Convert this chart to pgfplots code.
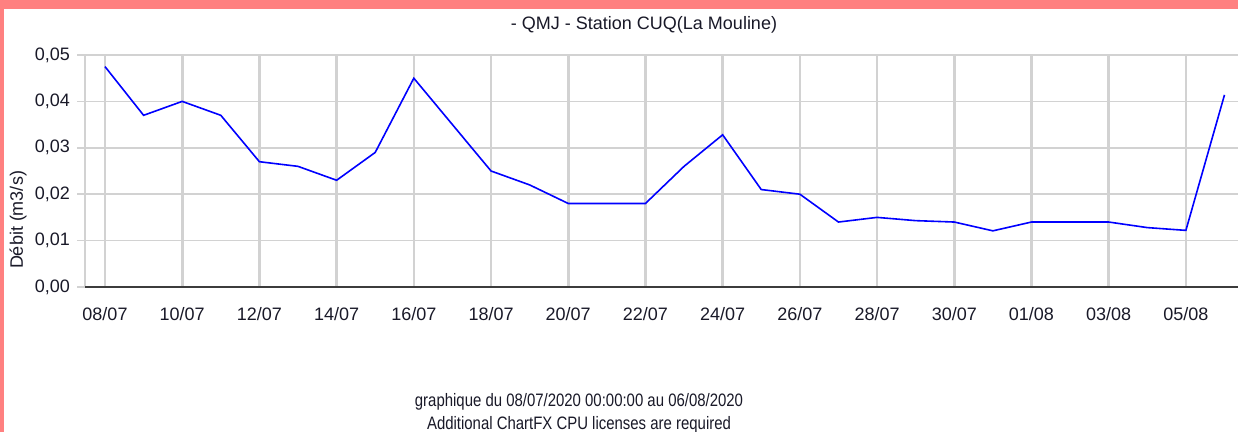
\documentclass[border=0pt]{standalone}
\usepackage{pgfplots}
\pgfplotsset{compat=1.18}
\usepackage{fontspec}
\setmainfont{Liberation Sans}
\definecolor{pinkband}{RGB}{255,128,128}
\definecolor{gridgray}{RGB}{210,210,210}
\definecolor{axisdark}{RGB}{60,60,60}
\definecolor{txt}{RGB}{25,25,40}
\pgfplotstableread{
x y
0 0.0475
1 0.037
2 0.040
3 0.037
4 0.027
5 0.026
6 0.023
7 0.029
8 0.045
9 0.035
10 0.025
11 0.022
12 0.018
13 0.018
14 0.018
15 0.026
16 0.0328
17 0.021
18 0.020
19 0.014
20 0.015
21 0.0143
22 0.014
23 0.0121
24 0.014
25 0.014
26 0.014
27 0.0128
28 0.0122
29 0.0414
}\flowdata
\begin{document}
\begin{tikzpicture}
\fill[white] (0,0) rectangle (619pt,216pt);
\fill[pinkband] (0,211.5pt) rectangle (619pt,216pt);
\fill[pinkband] (0,0) rectangle (2pt,216pt);
\begin{axis}[
  at={(42.5pt,72.5pt)}, anchor=south west,
  scale only axis, width=576.5pt, height=116pt,
  xmin=-0.518, xmax=29.35, ymin=0, ymax=0.05,
  axis line style={draw=none},
  xtick={0,2,...,28},
  xticklabels={08/07,10/07,12/07,14/07,16/07,18/07,20/07,22/07,24/07,26/07,28/07,30/07,01/08,03/08,05/08},
  ytick={0,0.01,...,0.05},
  yticklabel style={/pgf/number format/.cd, fixed, fixed zerofill, precision=2, use comma, assume math mode=true},
  scaled y ticks=false,
  ymajorgrids, xmajorgrids,
  x grid style={gridgray, line width=1.3pt},
  y grid style={gridgray, line width=0.75pt},
  xtick style={draw=none},
  ytick style={draw=gridgray, line width=0.75pt},
  tick align=outside, major tick length=4pt,
  tick label style={font=\fontsize{9pt}{10pt}\selectfont, text=txt},
  xticklabel style={yshift=-2.5pt},
  clip=false,
]
\addplot[color=blue, line width=0.8pt] table[x=x, y=y] {\flowdata};
\draw[gridgray, line width=1pt] (rel axis cs:0,0) -- (rel axis cs:0,1);
\draw[axisdark, line width=1.1pt] (rel axis cs:0,0) -- (rel axis cs:1,0);
\end{axis}
\node[font=\fontsize{9pt}{10pt}\selectfont, text=txt] at (322pt,203.5pt) {- QMJ - Station CUQ(La Mouline)};
\node[font=\fontsize{9pt}{10pt}\selectfont, text=txt, rotate=90] at (9pt,106pt) {Débit (m3/s)};
\node[font=\fontsize{9pt}{10pt}\selectfont, text=txt, xscale=0.83, transform shape] at (289.5pt,15pt) {graphique du 08/07/2020 00:00:00 au 06/08/2020};
\node[font=\fontsize{9pt}{10pt}\selectfont, text=txt, xscale=0.83, transform shape] at (289.5pt,3.5pt) {Additional ChartFX CPU licenses are required};
\pgfresetboundingbox
\useasboundingbox (0,0) rectangle (619pt,216pt);
\end{tikzpicture}
\end{document}
